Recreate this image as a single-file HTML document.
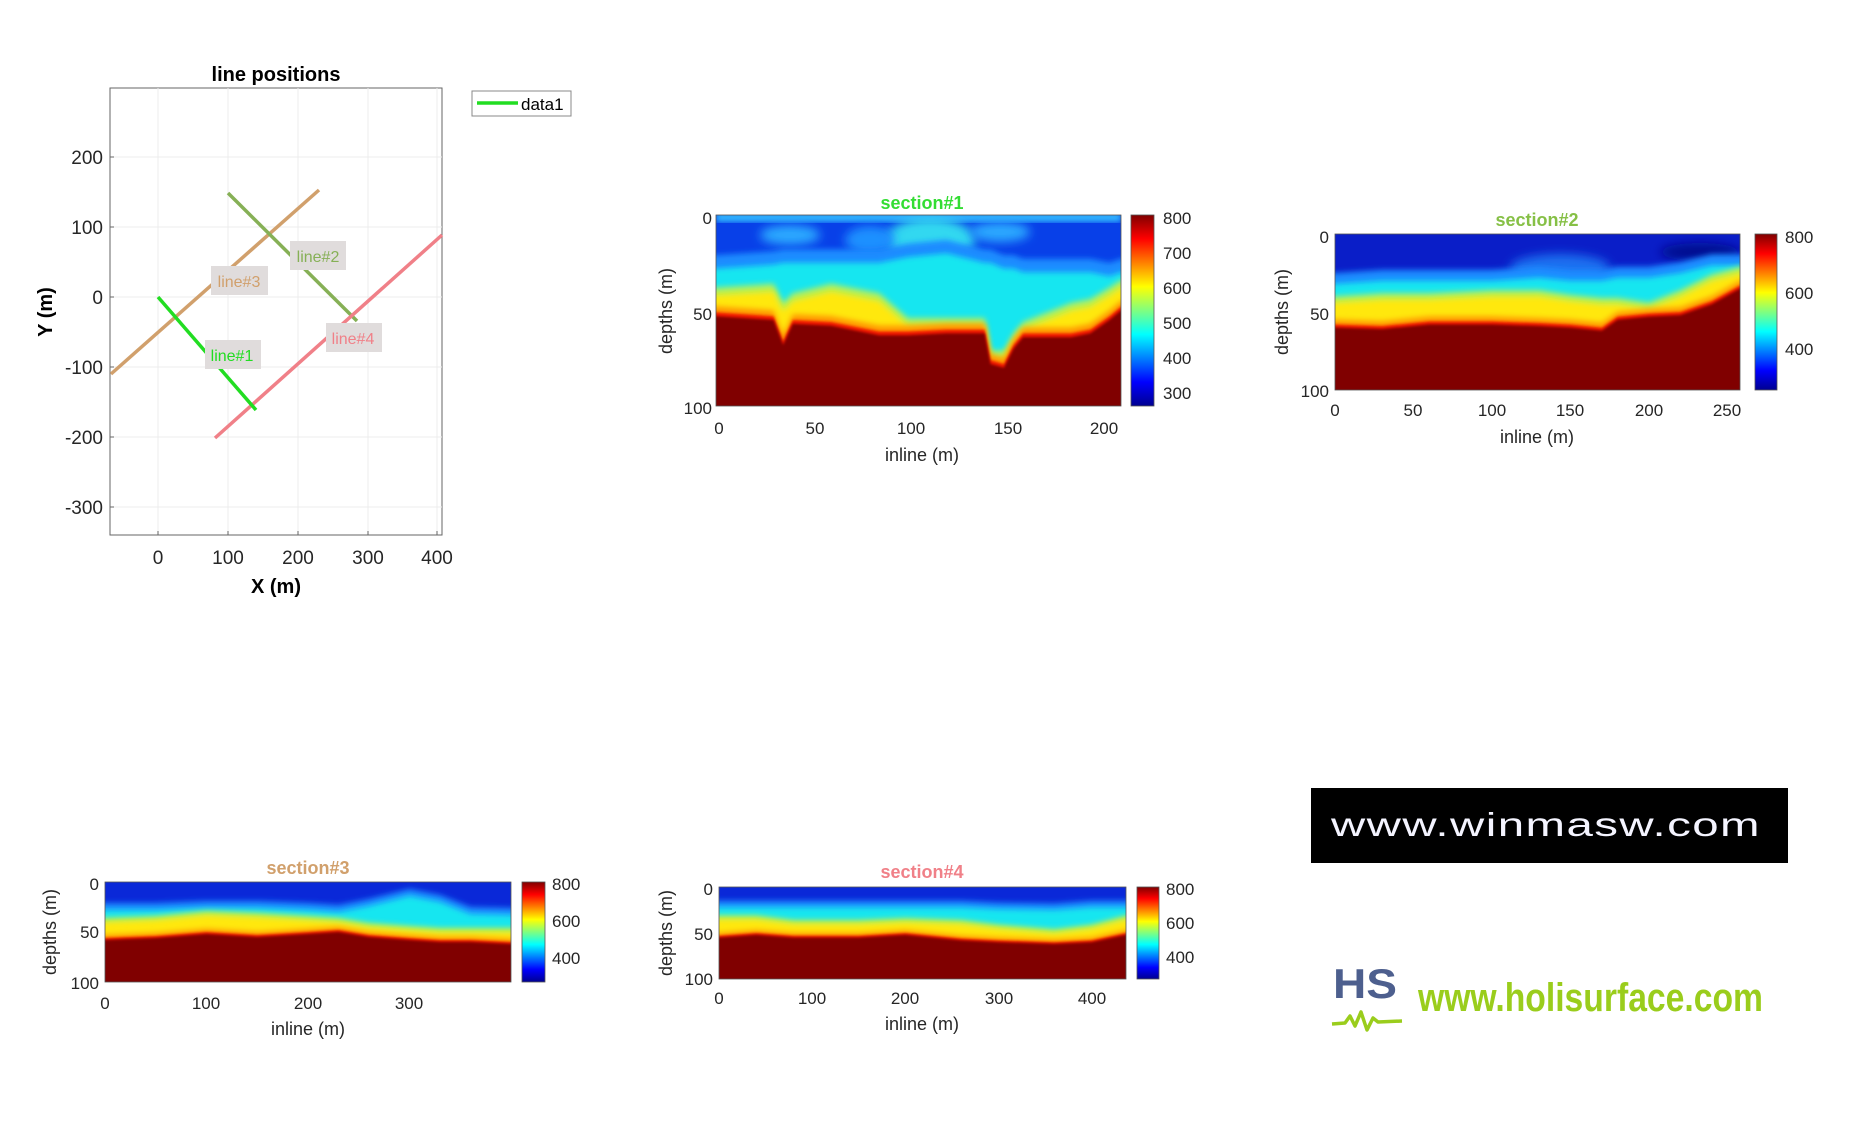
<!DOCTYPE html>
<html><head><meta charset="utf-8"><style>
html,body{margin:0;padding:0;background:#fff;}
svg{display:block;font-family:"Liberation Sans",sans-serif;}
</style></head><body>
<svg id="s" width="1864" height="1138" viewBox="0 0 1864 1138" xmlns="http://www.w3.org/2000/svg">
<defs>
<linearGradient id="jet" x1="0" y1="0" x2="0" y2="1">
<stop offset="0" stop-color="#800000"/><stop offset="0.125" stop-color="#ff0000"/>
<stop offset="0.375" stop-color="#ffff00"/><stop offset="0.625" stop-color="#00ffff"/>
<stop offset="0.875" stop-color="#0000ff"/><stop offset="1" stop-color="#000090"/>
</linearGradient>
<linearGradient id="wm" x1="0" y1="0" x2="0" y2="1">
<stop offset="0" stop-color="#000"/><stop offset="0.6" stop-color="#020418"/><stop offset="1" stop-color="#0a2a8a"/>
</linearGradient>
<radialGradient id="glow" cx="0.5" cy="1" r="0.5">
<stop offset="0" stop-color="#2a70ff" stop-opacity="0.9"/><stop offset="1" stop-color="#0020a0" stop-opacity="0"/>
</radialGradient>
<filter id="b3" x="-10%" y="-10%" width="120%" height="120%"><feGaussianBlur stdDeviation="3"/></filter>
<filter id="b5" x="-50%" y="-50%" width="200%" height="200%"><feGaussianBlur stdDeviation="5"/></filter>
<filter id="b1"><feGaussianBlur stdDeviation="1.2"/></filter>
<clipPath id="c1"><rect x="716" y="215" width="405" height="191"/></clipPath>
<clipPath id="c2"><rect x="1335" y="234" width="405" height="156"/></clipPath>
<clipPath id="c3"><rect x="105" y="882" width="406" height="100"/></clipPath>
<clipPath id="c4"><rect x="719" y="887" width="407" height="92"/></clipPath>
<clipPath id="cw"><rect x="1311" y="788" width="477" height="75"/></clipPath>
</defs>

<!-- line positions plot -->
<g>
<rect x="110" y="88" width="332" height="447" fill="#fff" stroke="#666" stroke-width="1"/>
<g stroke="#ececec" stroke-width="1">
<line x1="158" y1="88" x2="158" y2="535"/><line x1="228" y1="88" x2="228" y2="535"/>
<line x1="298" y1="88" x2="298" y2="535"/><line x1="368" y1="88" x2="368" y2="535"/>
<line x1="437" y1="88" x2="437" y2="535"/>
<line x1="110" y1="157" x2="442" y2="157"/><line x1="110" y1="227" x2="442" y2="227"/>
<line x1="110" y1="297" x2="442" y2="297"/><line x1="110" y1="367" x2="442" y2="367"/>
<line x1="110" y1="437" x2="442" y2="437"/><line x1="110" y1="507" x2="442" y2="507"/>
</g>
<g stroke="#666" stroke-width="1">
<line x1="158" y1="535" x2="158" y2="531"/><line x1="228" y1="535" x2="228" y2="531"/><line x1="298" y1="535" x2="298" y2="531"/><line x1="368" y1="535" x2="368" y2="531"/><line x1="437" y1="535" x2="437" y2="531"/>
<line x1="110" y1="157" x2="114" y2="157"/><line x1="110" y1="227" x2="114" y2="227"/><line x1="110" y1="297" x2="114" y2="297"/><line x1="110" y1="367" x2="114" y2="367"/><line x1="110" y1="437" x2="114" y2="437"/><line x1="110" y1="507" x2="114" y2="507"/>
</g>
<g stroke-width="3.5" stroke-linecap="butt">
<line x1="111" y1="374" x2="319" y2="190" stroke="#d1a06c"/>
<line x1="228" y1="193" x2="357" y2="321" stroke="#86b056"/>
<line x1="215" y1="438" x2="442" y2="235" stroke="#f08088"/>
<line x1="158" y1="297" x2="256" y2="410" stroke="#22dd22"/>
</g>
<g font-size="16">
<rect x="211" y="266" width="57" height="29" fill="#e0dcdc"/><text x="239" y="287" text-anchor="middle" fill="#d1a06c">line#3</text>
<rect x="290" y="241" width="56" height="29" fill="#e0dcdc"/><text x="318" y="262" text-anchor="middle" fill="#86b056">line#2</text>
<rect x="205" y="340" width="56" height="29" fill="#e0dcdc"/><text x="232" y="361" text-anchor="middle" fill="#22dd22">line#1</text>
<rect x="326" y="323" width="56" height="29" fill="#e0dcdc"/><text x="353" y="344" text-anchor="middle" fill="#f08088">line#4</text>
</g>
<text x="276" y="81" text-anchor="middle" font-size="20" font-weight="bold">line positions</text>
<g font-size="19" fill="#262626" text-anchor="middle">
<text x="158" y="564">0</text><text x="228" y="564">100</text><text x="298" y="564">200</text><text x="368" y="564">300</text><text x="437" y="564">400</text>
</g>
<g font-size="19" fill="#262626" text-anchor="end">
<text x="103" y="164">200</text><text x="103" y="234">100</text><text x="103" y="304">0</text><text x="103" y="374">-100</text><text x="103" y="444">-200</text><text x="103" y="514">-300</text>
</g>
<text x="276" y="593" text-anchor="middle" font-size="20" font-weight="bold">X (m)</text>
<text transform="translate(52,312) rotate(-90)" text-anchor="middle" font-size="20" font-weight="bold">Y (m)</text>
<rect x="472" y="91" width="99" height="25" fill="#fff" stroke="#888"/>
<line x1="477" y1="103" x2="518" y2="103" stroke="#22dd22" stroke-width="3.5"/>
<text x="521" y="110" font-size="17">data1</text>
</g>

<g id="h1" clip-path="url(#c1)"></g>
<g id="h2" clip-path="url(#c2)"></g>
<g id="h3" clip-path="url(#c3)"></g>
<g id="h4" clip-path="url(#c4)"></g>

<!-- section 1 -->
<rect x="716" y="215" width="405" height="191" fill="none" stroke="#555" stroke-width="0.8"/>
<rect x="1131" y="215" width="23" height="191" fill="url(#jet)" stroke="#555" stroke-width="0.8"/>
<text x="922" y="209" text-anchor="middle" font-size="18" font-weight="bold" fill="#33dd33">section#1</text>
<g font-size="17" fill="#262626">
<text x="1163" y="224">800</text><text x="1163" y="259">700</text><text x="1163" y="294">600</text><text x="1163" y="329">500</text><text x="1163" y="364">400</text><text x="1163" y="399">300</text>
<g text-anchor="end"><text x="712" y="224">0</text><text x="712" y="320">50</text><text x="712" y="414">100</text></g>
<g text-anchor="middle"><text x="719" y="434">0</text><text x="815" y="434">50</text><text x="911" y="434">100</text><text x="1008" y="434">150</text><text x="1104" y="434">200</text></g>
<text x="922" y="461" text-anchor="middle" font-size="18">inline (m)</text>
<text transform="translate(672,311) rotate(-90)" text-anchor="middle" font-size="18">depths (m)</text>
</g>

<!-- section 2 -->
<rect x="1335" y="234" width="405" height="156" fill="none" stroke="#555" stroke-width="0.8"/>
<rect x="1755" y="234" width="22" height="156" fill="url(#jet)" stroke="#555" stroke-width="0.8"/>
<text x="1537" y="226" text-anchor="middle" font-size="18" font-weight="bold" fill="#86c046">section#2</text>
<g font-size="17" fill="#262626">
<text x="1785" y="243">800</text><text x="1785" y="299">600</text><text x="1785" y="355">400</text>
<g text-anchor="end"><text x="1329" y="243">0</text><text x="1329" y="320">50</text><text x="1329" y="397">100</text></g>
<g text-anchor="middle"><text x="1335" y="416">0</text><text x="1413" y="416">50</text><text x="1492" y="416">100</text><text x="1570" y="416">150</text><text x="1649" y="416">200</text><text x="1727" y="416">250</text></g>
<text x="1537" y="443" text-anchor="middle" font-size="18">inline (m)</text>
<text transform="translate(1288,312) rotate(-90)" text-anchor="middle" font-size="18">depths (m)</text>
</g>

<!-- section 3 -->
<rect x="105" y="882" width="406" height="100" fill="none" stroke="#555" stroke-width="0.8"/>
<rect x="522" y="882" width="23" height="100" fill="url(#jet)" stroke="#555" stroke-width="0.8"/>
<text x="308" y="874" text-anchor="middle" font-size="18" font-weight="bold" fill="#d1a06c">section#3</text>
<g font-size="17" fill="#262626">
<text x="552" y="890">800</text><text x="552" y="927">600</text><text x="552" y="964">400</text>
<g text-anchor="end"><text x="99" y="890">0</text><text x="99" y="938">50</text><text x="99" y="989">100</text></g>
<g text-anchor="middle"><text x="105" y="1009">0</text><text x="206" y="1009">100</text><text x="308" y="1009">200</text><text x="409" y="1009">300</text></g>
<text x="308" y="1035" text-anchor="middle" font-size="18">inline (m)</text>
<text transform="translate(56,932) rotate(-90)" text-anchor="middle" font-size="18">depths (m)</text>
</g>

<!-- section 4 -->
<rect x="719" y="887" width="407" height="92" fill="none" stroke="#555" stroke-width="0.8"/>
<rect x="1137" y="887" width="22" height="92" fill="url(#jet)" stroke="#555" stroke-width="0.8"/>
<text x="922" y="878" text-anchor="middle" font-size="18" font-weight="bold" fill="#f08088">section#4</text>
<g font-size="17" fill="#262626">
<text x="1166" y="895">800</text><text x="1166" y="929">600</text><text x="1166" y="963">400</text>
<g text-anchor="end"><text x="713" y="895">0</text><text x="713" y="940">50</text><text x="713" y="985">100</text></g>
<g text-anchor="middle"><text x="719" y="1004">0</text><text x="812" y="1004">100</text><text x="905" y="1004">200</text><text x="999" y="1004">300</text><text x="1092" y="1004">400</text></g>
<text x="922" y="1030" text-anchor="middle" font-size="18">inline (m)</text>
<text transform="translate(672,933) rotate(-90)" text-anchor="middle" font-size="18">depths (m)</text>
</g>

<!-- winmasw -->
<g clip-path="url(#cw)">
<rect x="1311" y="788" width="477" height="75" fill="#000"/>
<ellipse cx="1545" cy="866" rx="110" ry="22" fill="url(#glow)"/>
</g>
<text x="1331" y="836" font-size="33" fill="#f4f4ff" textLength="430" lengthAdjust="spacingAndGlyphs" letter-spacing="1">www.winmasw.com</text>

<!-- holisurface -->
<text x="1333" y="998" font-size="42" font-weight="bold" fill="#4d5f8e" textLength="64" lengthAdjust="spacingAndGlyphs">HS</text>
<path d="M1332 1024 L1345 1023 L1350 1016 L1355 1026 L1361 1012 L1367 1030 L1373 1018 L1378 1022 L1402 1021" fill="none" stroke="#9acd1c" stroke-width="3.5" stroke-linejoin="round"/>
<text x="1418" y="1011" font-size="40" font-weight="bold" fill="#9acd1c" textLength="345" lengthAdjust="spacingAndGlyphs">www.holisurface.com</text>
</svg>
<script>
(function(){
var NS="http://www.w3.org/2000/svg";
function poly(g,x0,y0,w,h,xmax,pts,fn,col,filt){
  var s=[];
  s.push((x0-15)+","+(y0+fn(pts[0])*h/100));
  pts.forEach(function(p){s.push((x0+p[0]/xmax*w)+","+(y0+fn(p)*h/100));});
  s.push((x0+w+15)+","+(y0+fn(pts[pts.length-1])*h/100));
  s.push((x0+w+15)+","+(y0+h+15));s.push((x0-15)+","+(y0+h+15));
  var e=document.createElementNS(NS,"polygon");
  e.setAttribute("points",s.join(" "));e.setAttribute("fill",col);
  if(filt)e.setAttribute("filter","url(#"+filt+")");
  g.appendChild(e);
}
function ell(g,cx,cy,rx,ry,col){
  var e=document.createElementNS(NS,"ellipse");
  e.setAttribute("cx",cx);e.setAttribute("cy",cy);e.setAttribute("rx",rx);e.setAttribute("ry",ry);
  e.setAttribute("fill",col);e.setAttribute("filter","url(#b5)");g.appendChild(e);
}
function heat(id,x0,y0,w,h,xmax,pts,topcol,pre){
  var g=document.getElementById(id);
  var r=document.createElementNS(NS,"rect");
  r.setAttribute("x",x0-5);r.setAttribute("y",y0-5);r.setAttribute("width",w+10);r.setAttribute("height",h+10);
  r.setAttribute("fill",topcol||"#0a30e0");g.appendChild(r);
  if(pre)pre(g);
  poly(g,x0,y0,w,h,xmax,pts,function(p){return p[2]-7;},"#1a8cff","b3");
  poly(g,x0,y0,w,h,xmax,pts,function(p){return p[2];},"#18e6f0","b3");
  poly(g,x0,y0,w,h,xmax,pts,function(p){return p[3]-4;},"#b4f05a","b3");
  poly(g,x0,y0,w,h,xmax,pts,function(p){return p[3];},"#ffe810","b3");
  poly(g,x0,y0,w,h,xmax,pts,function(p){return p[1]-5;},"#ff9400","b3");
  poly(g,x0,y0,w,h,xmax,pts,function(p){return p[1]-2;},"#f01800","b1");
  poly(g,x0,y0,w,h,xmax,pts,function(p){return p[1];},"#800000","b1");
}
heat("h1",716,215,405,191,211,[[0,53,28,42],[30,55,26,40],[35,68,25,50],[40,57,25,45],[60,58,25,40],[85,63,25,45],[100,63,22,58],[120,62,20,58],[140,62,25,58],[143,78,25,75],[150,80,28,75],[155,70,28,66],[160,64,30,60],[185,64,30,50],[195,62,30,48],[205,55,32,42],[211,50,30,38]],"#0840e8",function(g){
  var r=document.createElementNS(NS,"rect");r.setAttribute("x",716);r.setAttribute("y",213);r.setAttribute("width",405);r.setAttribute("height",9);r.setAttribute("fill","#30b8ff");r.setAttribute("filter","url(#b3)");g.appendChild(r);
  ell(g,790,235,30,10,"#2aa8ff");ell(g,930,240,45,22,"#30d8f0");ell(g,1000,232,30,10,"#2aa8ff");ell(g,870,240,25,14,"#1c90ff");
});
heat("h2",1335,234,405,156,258,[[0,60,32,44],[30,61,30,42],[60,58,30,42],[100,58,30,40],[130,59,28,40],[150,60,30,43],[170,62,30,45],[180,55,28,45],[200,53,28,48],[220,52,25,40],[240,45,20,30],[258,35,20,25]],"#0a1ec8",function(g){
  ell(g,1560,268,50,14,"#1a70f0");ell(g,1700,252,40,9,"#000a90");
});
heat("h3",105,882,406,100,400,[[0,58,28,40],[50,56,28,38],[100,52,26,33],[150,55,26,35],[200,52,28,38],[230,50,30,40],[260,55,24,45],[300,58,14,48],[330,60,20,50],[360,60,32,50],[400,62,33,50]],"#0a28d8");
heat("h4",719,887,407,92,437,[[0,55,22,35],[40,52,22,35],[80,55,22,40],[150,55,22,40],[200,52,22,38],[260,58,22,40],[300,60,24,45],[360,62,25,50],[400,60,22,45],[437,52,22,35]],"#0a28d8");
})();
</script>
</body></html>
